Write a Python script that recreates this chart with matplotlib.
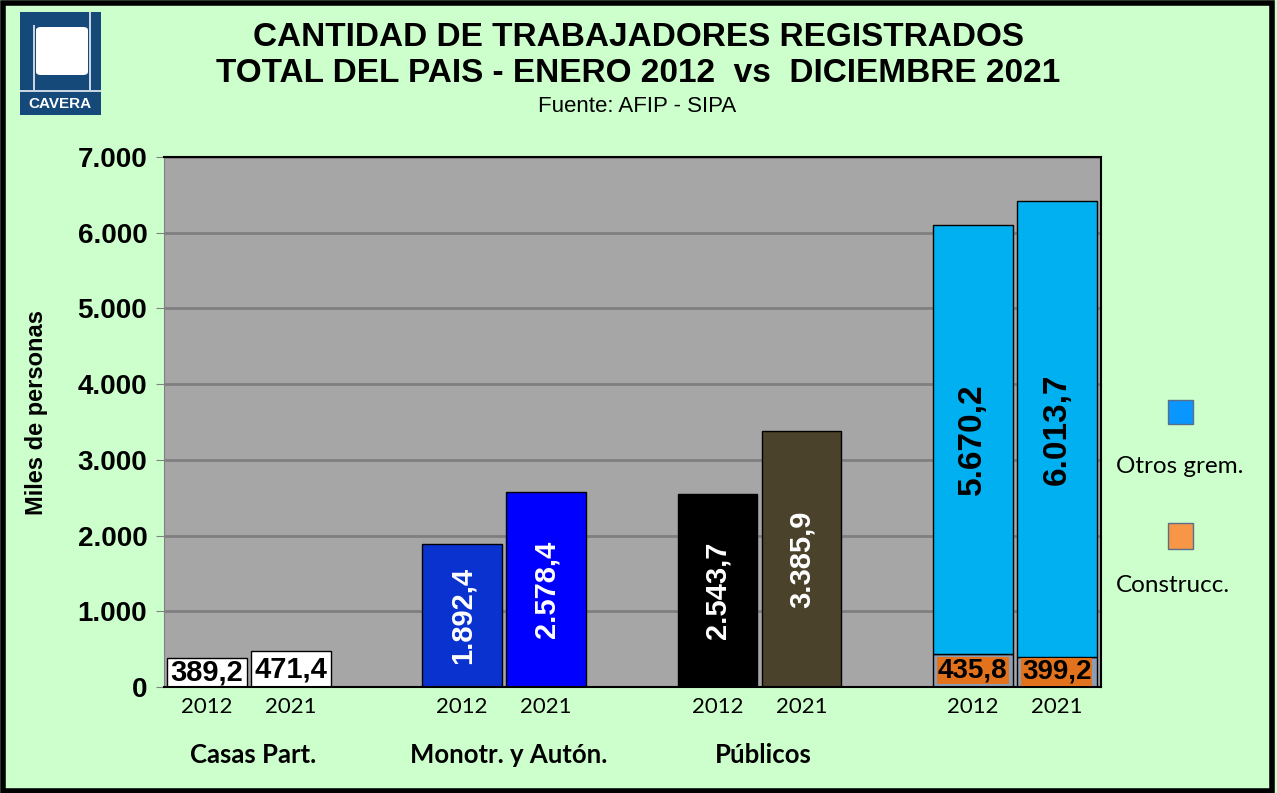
import matplotlib.pyplot as plt
import matplotlib.patches as patches
import numpy as np

# data (miles de personas)
groups = ['Casas Part.', 'Monotr. y Autón.', 'Públicos', '']
years = ['2012', '2021']
casas = [389.2, 471.4]
monotr = [1892.4, 2578.4]
publicos = [2543.7, 3385.9]
construcc = [435.8, 399.2]
otros = [5670.2, 6013.7]

def fmt(v):
    s = '{:,.1f}'.format(v)
    return s.replace(',', 'X').replace('.', ',').replace('X', '.')

W = 12.77
H = 7.93
fig = plt.figure(figsize=(W, H), dpi=100)
fig.patch.set_facecolor('#CCFFCC')

ax = fig.add_axes([164/1277, 106/793, 937/1277, 530/793])
ax.set_facecolor('#A6A6A6')
ax.set_xlim(0, 11.155)
ax.set_ylim(0, 7000)
yt = np.arange(0, 7001, 1000)
ax.set_yticks(yt)
ax.set_yticklabels([fmt(v)[:-2] if v else '0' for v in yt],
                   fontsize=20, fontweight='bold', family='Liberation Sans')
ax.yaxis.grid(True, color='#7F7F7F', linewidth=2)
ax.set_axisbelow(True)
ax.tick_params(axis='y', length=6, color='#808080', pad=6)
ax.spines['left'].set_color('#808080')
ax.spines['top'].set_linewidth(1.5)
ax.spines['right'].set_linewidth(1.5)
ax.spines['bottom'].set_linewidth(1.5)

step = 3.04
w = 0.95
pos = [[g*step + 0.51, g*step + 1.51] for g in range(4)]

lab = dict(fontweight='bold', family='Liberation Sans', ha='center', va='center')

# Casas Part.
for x, v in zip(pos[0], casas):
    ax.bar(x, v, w, color='white', edgecolor='black', linewidth=1)
    ax.text(x, v/2, fmt(v), fontsize=21, color='black', **lab)

# Monotr. y Autón.
for x, v, c in zip(pos[1], monotr, ['#0A32CF', '#0000FF']):
    ax.bar(x, v, w, color=c, edgecolor='black', linewidth=1)
    ax.text(x, v/2, fmt(v), fontsize=21, color='white', rotation=90, **lab)

# Públicos
for x, v, c in zip(pos[2], publicos, ['#000000', '#4A422A']):
    ax.bar(x, v, w, color=c, edgecolor='black', linewidth=1)
    ax.text(x, v/2, fmt(v), fontsize=21, color='white', rotation=90, **lab)

# Construcc + Otros grem.
for x, c, o in zip(pos[3], construcc, otros):
    ax.bar(x, c, w, color='#8C9DB5', edgecolor='black', linewidth=1)
    ax.bar(x, o, w, bottom=c, color='#00B0F0', edgecolor='black', linewidth=1)
    ax.text(x, c/2, fmt(c), fontsize=20, color='black',
            bbox=dict(facecolor='#E2731C', edgecolor='none', pad=0.5), **lab)
    ax.text(x, c + o/2, fmt(o), fontsize=24, color='black', rotation=90, **lab)

ticks = [p for g in pos for p in g]
ax.set_xticks(ticks)
ax.set_xticklabels(years*4, fontsize=16, family='Lato')
ax.tick_params(axis='x', length=0, pad=7)

for g, name in enumerate(groups):
    ax.text(np.mean(pos[g]) + 0.05, -0.128, name, transform=ax.get_xaxis_transform(),
            ha='center', va='center', fontsize=18.5, fontweight='bold', family='Lato')

ax.set_ylabel('Miles de personas', fontsize=17, fontweight='bold', family='Liberation Sans')
ax.yaxis.set_label_coords(-0.124, 0.517)

# titles
fig.text(0.5, 1-38/793, 'CANTIDAD DE TRABAJADORES REGISTRADOS', ha='center', va='center',
         fontsize=24, fontweight='bold', family='Liberation Sans')
fig.text(0.5, 1-73/793, 'TOTAL DEL PAIS - ENERO 2012  vs  DICIEMBRE 2021', ha='center', va='center',
         fontsize=24, fontweight='bold', family='Liberation Sans')
fig.text(637/1277, 1-106/793, 'Fuente: AFIP - SIPA', ha='center', va='center',
         fontsize=16, family='Liberation Sans')

# legend
fig.patches.append(patches.Rectangle((1168/1277, 1-424/793), 25/1277, 24/793, transform=fig.transFigure,
                                     facecolor='#0A96FF', edgecolor='#5A6E8A', linewidth=1))
fig.patches.append(patches.Rectangle((1168/1277, 1-549/793), 25/1277, 26/793, transform=fig.transFigure,
                                     facecolor='#F79646', edgecolor='#5A6E8A', linewidth=1))
fig.text(1116/1277, 1-467/793, 'Otros grem.', ha='left', va='center', fontsize=17.5, family='Lato')
fig.text(1116/1277, 1-585/793, 'Construcc.', ha='left', va='center', fontsize=17.5, family='Lato')

# logo
fig.patches.append(patches.Rectangle((20/1277, 1-115/793), 81/1277, 103/793, transform=fig.transFigure,
                                     facecolor='#15497A', edgecolor='none'))
fig.patches.append(patches.FancyBboxPatch((36/1277, 1-75/793), 52/1277, 48/793, transform=fig.transFigure,
                                          boxstyle='round,pad=0,rounding_size=0.004',
                                          facecolor='white', edgecolor='none'))
fig.patches.append(patches.Rectangle((20/1277, 1-92/793), 81/1277, 2/793, transform=fig.transFigure,
                                     facecolor='#C8D4E0', edgecolor='none'))
fig.patches.append(patches.Rectangle((33/1277, 1-90/793), 2/1277, 65/793, transform=fig.transFigure,
                                     facecolor='#C8D4E0', edgecolor='none'))
fig.patches.append(patches.Rectangle((89/1277, 1-90/793), 2/1277, 78/793, transform=fig.transFigure,
                                     facecolor='#C8D4E0', edgecolor='none'))
fig.text(60/1277, 1-104/793, 'CAVERA', ha='center', va='center', fontsize=11,
         fontweight='bold', color='white', family='Liberation Sans')

# outer frame
fig.patches.append(patches.Rectangle((0.002, 0.002), 0.994, 0.994, transform=fig.transFigure,
                                     facecolor='none', edgecolor='black', linewidth=4))

plt.savefig('out.png', dpi=100, facecolor=fig.get_facecolor())
